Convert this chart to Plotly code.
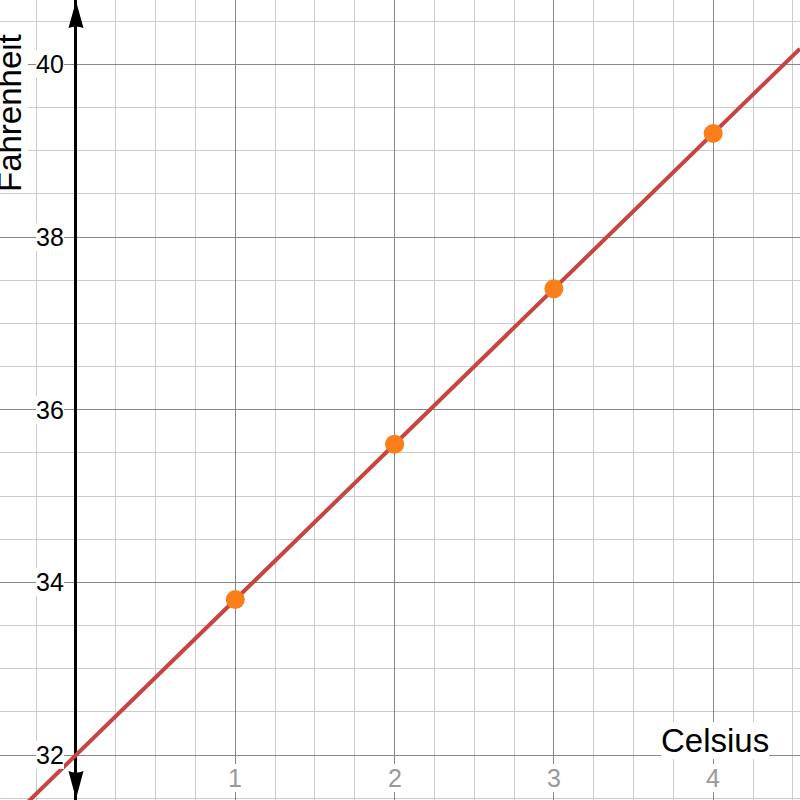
import numpy as np
import plotly.graph_objects as go

# ---- data ----
celsius = [1, 2, 3, 4]
fahrenheit = [33.8, 35.6, 37.4, 39.2]
slope = 1.8
intercept = 32
x_tick_values = [1, 2, 3, 4]
x_tick_labels = ["1", "2", "3", "4"]
y_tick_values = [32, 34, 36, 38, 40]
y_tick_labels = ["32", "34", "36", "38", "40"]

# ---- view ----
x_range = [-0.477, 4.545]
y_range = [31.479, 40.745]

FONT = "Liberation Sans, Arial, sans-serif"
RED = "#c74440"
ORANGE = "#fa7e19"

line_x = np.array(x_range)
line_y = slope * line_x + intercept

fig = go.Figure()
fig.add_trace(go.Scatter(x=line_x, y=line_y, mode="lines",
                         line=dict(color=RED, width=4), hoverinfo="skip"))
fig.add_trace(go.Scatter(x=celsius, y=fahrenheit, mode="markers",
                         marker=dict(color=ORANGE, size=19, line=dict(width=0))))

annotations = []
for v, t in zip(y_tick_values, y_tick_labels):
    annotations.append(dict(x=0, y=v, xref="x", yref="y", text=t, showarrow=False,
                            xanchor="right", yanchor="middle", xshift=-12, yshift=0,
                            font=dict(family=FONT, size=25, color="#000"),
                            bgcolor="white", borderpad=0, borderwidth=0))
for v, t in zip(x_tick_values, x_tick_labels):
    annotations.append(dict(x=v, y=22 / 800, xref="x", yref="paper", text=t, showarrow=False,
                            xanchor="center", yanchor="middle",
                            font=dict(family=FONT, size=25, color="#999999"),
                            bgcolor="white", borderpad=0, borderwidth=0))
annotations.append(dict(x=715 / 800, y=1 - 740 / 800, xref="paper", yref="paper", text="Celsius",
                        showarrow=False, xanchor="center", yanchor="middle",
                        font=dict(family=FONT, size=33, color="#000"),
                        bgcolor="white", borderpad=0, borderwidth=0))
annotations.append(dict(x=10 / 800, y=1 - 113 / 800, xref="paper", yref="paper", text="Fahrenheit",
                        showarrow=False, xanchor="center", yanchor="middle", textangle=-90,
                        font=dict(family=FONT, size=33, color="#000"),
                        bgcolor="white", borderpad=0, borderwidth=0))

shapes = [
    dict(type="path", xref="x", yref="paper", xsizemode="pixel", ysizemode="pixel",
         xanchor=0, yanchor=1, path="M-7.5,-28 Q0,-25 7.5,-28 L0,-1 Z", fillcolor="black",
         line=dict(width=0), layer="above"),
    dict(type="path", xref="x", yref="paper", xsizemode="pixel", ysizemode="pixel",
         xanchor=0, yanchor=0, path="M-7.5,29 Q0,26 7.5,29 L0,1 Z", fillcolor="black",
         line=dict(width=0), layer="above"),
]

fig.update_layout(
    width=800, height=800, margin=dict(l=0, r=0, t=0, b=0),
    paper_bgcolor="white", plot_bgcolor="white", showlegend=False,
    annotations=annotations, shapes=shapes,
    xaxis=dict(range=x_range, tick0=0, dtick=1, showgrid=True, gridcolor="#888888", gridwidth=1,
               zeroline=True, zerolinecolor="#000000", zerolinewidth=3, showticklabels=False,
               ticks="", showline=False,
               minor=dict(tick0=0, dtick=0.25, showgrid=True, gridcolor="#cccccc", gridwidth=1, ticks="")),
    yaxis=dict(range=y_range, tick0=0, dtick=2, showgrid=True, gridcolor="#888888", gridwidth=1,
               zeroline=False, showticklabels=False, ticks="", showline=False,
               minor=dict(tick0=0, dtick=0.5, showgrid=True, gridcolor="#cccccc", gridwidth=1, ticks="")),
)

fig.write_html("out.html", config={"displayModeBar": False},
               post_script="document.body.style.margin='0';document.body.style.overflow='hidden';")
